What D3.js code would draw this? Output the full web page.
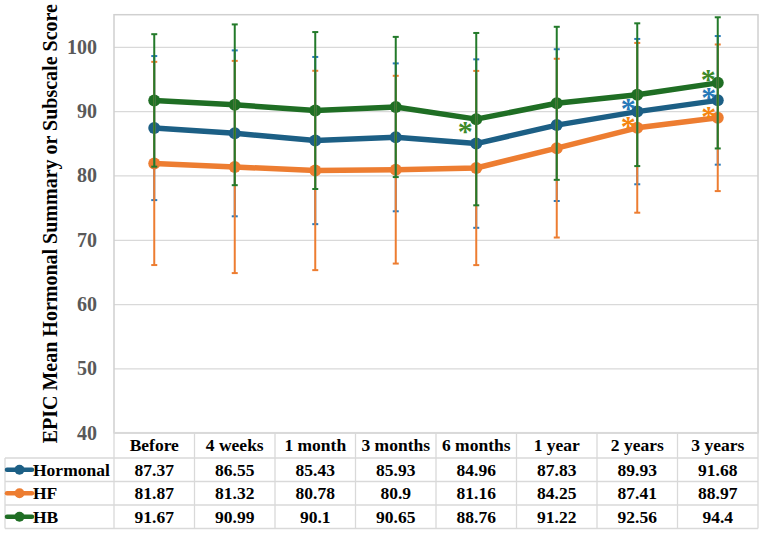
<!DOCTYPE html>
<html>
<head>
<meta charset="utf-8">
<script src="https://cdn.jsdelivr.net/npm/d3@7"></script>
<style>
  body { margin: 0; background: #fff; }
  svg { display: block; }
  text { font-family: "Liberation Serif", "Times New Roman", serif; font-weight: bold; }
</style>
</head>
<body>
<div id="chart"></div>
<script>
// categories and values
let categories = ["Before", "4 weeks", "1 month", "3 months", "6 months", "1 year", "2 years", "3 years"];
let seriesNames = ["Hormonal", "HF", "HB"];
let hormonal = [87.37, 86.55, 85.43, 85.93, 84.96, 87.83, 89.93, 91.68];
let hf = [81.87, 81.32, 80.78, 80.9, 81.16, 84.25, 87.41, 88.97];
let hb = [91.67, 90.99, 90.1, 90.65, 88.76, 91.22, 92.56, 94.4];
// error bar half widths (SD), read from the caps
let hormonalSD = [11.2, 12.9, 13.0, 11.5, 13.1, 11.8, 11.3, 10.0];
let hfSD = [15.8, 16.5, 15.5, 14.6, 15.1, 13.9, 13.2, 11.4];
let hbSD = [10.3, 12.5, 12.2, 10.9, 13.4, 11.9, 11.1, 10.2];
// significance marks
let hormonalMark = ["", "", "", "", "", "", "*", "*"];
let hfMark = ["", "", "", "", "", "", "*", "*"];
let hbMark = ["", "", "", "", "*", "", "", "*"];
let yTicks = [40, 50, 60, 70, 80, 90, 100];

let W = 767, H = 535;
let plot = {left: 114, right: 758, top: 14.7, bottom: 432.7};

let series = [
    {name: seriesNames[0], values: hormonal, sd: hormonalSD, marks: hormonalMark,
        color: "#1c5f85", barColor: "#2a7bbd", markColor: "#2779b8", markDx: -9, markDy: -8},
    {name: seriesNames[1], values: hf, sd: hfSD, marks: hfMark,
        color: "#ed7d31", barColor: "#ed7d31", markColor: "#f5850f", markDx: -9, markDy: -6},
    {name: seriesNames[2], values: hb, sd: hbSD, marks: hbMark,
        color: "#1f6e24", barColor: "#237a2a", markColor: "#3d8a2a", markDx: -9.5, markDy: -8.3}
];

let svg = d3.select("#chart").append("svg")
    .attr("width", W)
    .attr("height", H);

let x = d3.scaleBand().domain(categories).range([plot.left, plot.right]).padding(0);
let y = d3.scaleLinear().domain([40, 105]).range([plot.bottom, plot.top]);

// gridlines
let yAxis = d3.axisLeft(y).tickValues(yTicks).tickSize(-(plot.right - plot.left)).tickPadding(17);
let gy = svg.append("g")
    .attr("transform", "translate(" + plot.left + ",0)")
    .call(yAxis);
gy.select(".domain").remove();
gy.selectAll(".tick line").attr("stroke", "#d9d9d9").attr("stroke-width", 1.3);
gy.selectAll(".tick text")
    .attr("fill", "#595959")
    .style("font-size", "20px");

// plot border
svg.append("rect")
    .attr("x", plot.left).attr("y", plot.top)
    .attr("width", plot.right - plot.left).attr("height", plot.bottom - plot.top)
    .attr("fill", "none").attr("stroke", "#d0d0d0").attr("stroke-width", 1.5);

// y axis title
svg.append("text")
    .attr("transform", "translate(50," + ((plot.top + plot.bottom) / 2) + ") rotate(-90)")
    .attr("text-anchor", "middle")
    .attr("dominant-baseline", "central")
    .style("font-size", "20px")
    .attr("fill", "#000")
    .text("EPIC Mean Hormonal Summary or Subscale Score");

let cx = d => x(d) + x.bandwidth() / 2;

// lines and markers
let line = d3.line()
    .x((d, i) => cx(categories[i]))
    .y(d => y(d));

series.forEach(s => {
    svg.append("path")
        .datum(s.values)
        .attr("d", line)
        .attr("fill", "none")
        .attr("stroke", s.color)
        .attr("stroke-width", 5.5)
        .attr("stroke-linejoin", "round");
    svg.selectAll(null)
        .data(s.values)
        .enter().append("circle")
        .attr("cx", (d, i) => cx(categories[i]))
        .attr("cy", d => y(d))
        .attr("r", 6)
        .attr("fill", s.color);
});

// error bars
series.forEach(s => {
    let g = svg.append("g");
    s.values.forEach((v, i) => {
        let px = cx(categories[i]);
        let y1 = y(v + s.sd[i]), y2 = y(v - s.sd[i]);
        g.append("line")
            .attr("x1", px).attr("x2", px).attr("y1", y1).attr("y2", y2)
            .attr("stroke", s.barColor).attr("stroke-width", 2);
        [y1, y2].forEach(yy => {
            g.append("line")
                .attr("x1", px - 3).attr("x2", px + 3).attr("y1", yy).attr("y2", yy)
                .attr("stroke", s.barColor).attr("stroke-width", 2);
        });
    });
});

// asterisk labels (baseline sits ~0.48em below the glyph centre)
let markSize = 30;
series.forEach(s => {
    svg.selectAll(null)
        .data(s.marks.map((m, i) => ({m: m, i: i})).filter(d => d.m))
        .enter().append("text")
        .attr("x", d => cx(categories[d.i]) + (s.name === "HB" && d.i === 4 ? -11 : s.markDx))
        .attr("y", d => y(s.values[d.i]) + (s.name === "HB" && d.i === 4 ? 7.5 : s.markDy) + markSize * 0.48)
        .attr("text-anchor", "middle")
        .attr("fill", s.markColor)
        .style("font-size", markSize + "px")
        .text(d => d.m);
});

// data table
let rowTop = [432.7, 458, 481.5, 505, 528.5];
let gridColor = "#d9d9d9";
let tg = svg.append("g");

// horizontal lines
rowTop.forEach((ry, i) => {
    tg.append("line")
        .attr("x1", i === 0 ? plot.left : 5).attr("x2", plot.right)
        .attr("y1", ry).attr("y2", ry)
        .attr("stroke", gridColor).attr("stroke-width", 1.3);
});
// vertical lines
categories.forEach(c => {
    tg.append("line")
        .attr("x1", x(c)).attr("x2", x(c))
        .attr("y1", rowTop[0]).attr("y2", rowTop[4])
        .attr("stroke", gridColor).attr("stroke-width", 1.3);
});
tg.append("line")
    .attr("x1", plot.right).attr("x2", plot.right)
    .attr("y1", rowTop[0]).attr("y2", rowTop[4])
    .attr("stroke", gridColor).attr("stroke-width", 1.3);
tg.append("line")
    .attr("x1", 5).attr("x2", 5)
    .attr("y1", rowTop[1]).attr("y2", rowTop[4])
    .attr("stroke", gridColor).attr("stroke-width", 1.3);

// header
tg.selectAll(null)
    .data(categories)
    .enter().append("text")
    .attr("x", d => cx(d))
    .attr("y", (rowTop[0] + rowTop[1]) / 2)
    .attr("text-anchor", "middle")
    .attr("dominant-baseline", "central")
    .style("font-size", "17.5px")
    .text(d => d);

// rows
series.forEach((s, r) => {
    let my = (rowTop[r + 1] + rowTop[r + 2]) / 2;
    tg.append("line")
        .attr("x1", 7).attr("x2", 32).attr("y1", my).attr("y2", my)
        .attr("stroke", s.color).attr("stroke-width", 4.5).attr("stroke-linecap", "round");
    tg.append("circle")
        .attr("cx", 19.5).attr("cy", my).attr("r", 5).attr("fill", s.color);
    tg.append("text")
        .attr("x", 33).attr("y", my)
        .attr("dominant-baseline", "central")
        .style("font-size", "17.5px")
        .text(s.name);
    tg.selectAll(null)
        .data(s.values)
        .enter().append("text")
        .attr("x", (d, i) => cx(categories[i]))
        .attr("y", my)
        .attr("text-anchor", "middle")
        .attr("dominant-baseline", "central")
        .style("font-size", "17.5px")
        .text(d => d);
});
</script>
</body>
</html>
